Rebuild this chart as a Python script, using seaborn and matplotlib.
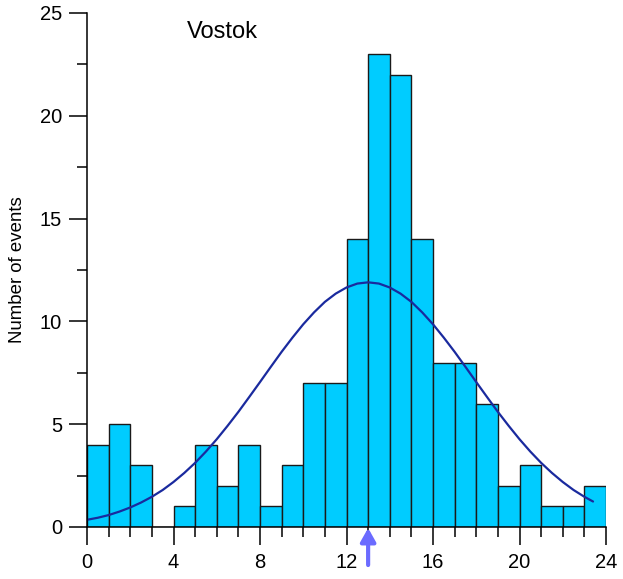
import numpy as np
import pandas as pd
import matplotlib
matplotlib.use("Agg")
import matplotlib.pyplot as plt
from matplotlib.ticker import MultipleLocator
import seaborn as sns

# Data
bin_starts = list(range(0, 24))
counts = [4, 5, 3, 0, 1, 4, 2, 4, 1, 3, 7, 7, 14, 23, 22, 14, 8, 8, 6, 2, 3, 1, 1, 2]

curve_x = [0, 0.5, 1, 1.5, 2, 2.5, 3, 3.5, 4, 4.5, 5, 5.5, 6, 6.5, 7, 7.5, 8, 8.5, 9, 9.5,
           10, 10.5, 11, 11.5, 12, 12.5, 13, 13.5, 14, 14.5, 15, 15.5, 16, 16.5, 17, 17.5,
           18, 18.5, 19, 19.5, 20, 20.5, 21, 21.5, 22, 22.5, 23, 23.4]
curve_y = [0.35, 0.45, 0.58, 0.75, 0.95, 1.19, 1.47, 1.80, 2.19, 2.63, 3.12, 3.67, 4.27, 4.92,
           5.60, 6.32, 7.05, 7.79, 8.52, 9.21, 9.86, 10.44, 10.95, 11.35, 11.65, 11.84, 11.9,
           11.84, 11.65, 11.35, 10.95, 10.44, 9.86, 9.21, 8.52, 7.79, 7.05, 6.32, 5.60, 4.92,
           4.27, 3.67, 3.12, 2.63, 2.19, 1.80, 1.47, 1.24]

arrow_x = 13
title_text = "Vostok"
ylabel_text = "Number of events"
xticks = [0, 4, 8, 12, 16, 20, 24]
yticks = [0, 5, 10, 15, 20, 25]

sns.set_style("white")
plt.rcParams['font.family'] = ['Liberation Sans', 'DejaVu Sans']

fig = plt.figure(figsize=(6.23, 5.79), dpi=100)
ax = fig.add_axes([87/623, 1-527/579, (606-87)/623, (527-13)/579])

df = pd.DataFrame({"x": [b + 0.5 for b in bin_starts], "n": counts})
sns.histplot(data=df, x="x", weights="n", binwidth=1, binrange=(0, 24), ax=ax,
             color="#00CCFF", alpha=1.0, edgecolor="#1a1a1a", linewidth=1.0)

cdf = pd.DataFrame({"x": curve_x, "y": curve_y})
sns.lineplot(data=cdf, x="x", y="y", ax=ax, color="#1a2a9e", linewidth=1.6, sort=False)

ax.set_xlim(0, 24)
ax.set_ylim(0, 25)
ax.set_xticks(xticks)
ax.set_yticks(yticks)
ax.xaxis.set_minor_locator(MultipleLocator(1))
ax.yaxis.set_minor_locator(MultipleLocator(2.5))
ax.tick_params(axis="both", which="major", direction="out", length=13, width=1.1,
               labelsize=14.5, color="black", labelcolor="black")
ax.tick_params(axis="both", which="minor", direction="out", length=7.5, width=1.1, color="black")
ax.tick_params(axis="y", which="major", pad=5)
ax.tick_params(axis="x", which="major", pad=6)
ax.tick_params(bottom=True, left=True)
ax.tick_params(which="minor", bottom=True, left=True)

for s in ["top", "right"]:
    ax.spines[s].set_visible(False)
for s in ["left", "bottom"]:
    ax.spines[s].set_color("black")
    ax.spines[s].set_linewidth(1.1)

ax.set_xlabel("")
ax.set_ylabel(ylabel_text, fontsize=13.4, color="black")
ax.yaxis.set_label_coords(-(87-26)/519, 0.5)

ax.text(4.62, 24.1, title_text, fontsize=17, ha="left", va="center", color="black")

ax.annotate("", xy=(arrow_x, -0.05), xytext=(arrow_x, -1.85),
            xycoords="data", textcoords="data", annotation_clip=False,
            arrowprops=dict(arrowstyle="-|>,head_length=0.8,head_width=0.45",
                            color="#6b6bff", lw=3, shrinkA=0, shrinkB=0))

fig.savefig("out.png", dpi=100)
